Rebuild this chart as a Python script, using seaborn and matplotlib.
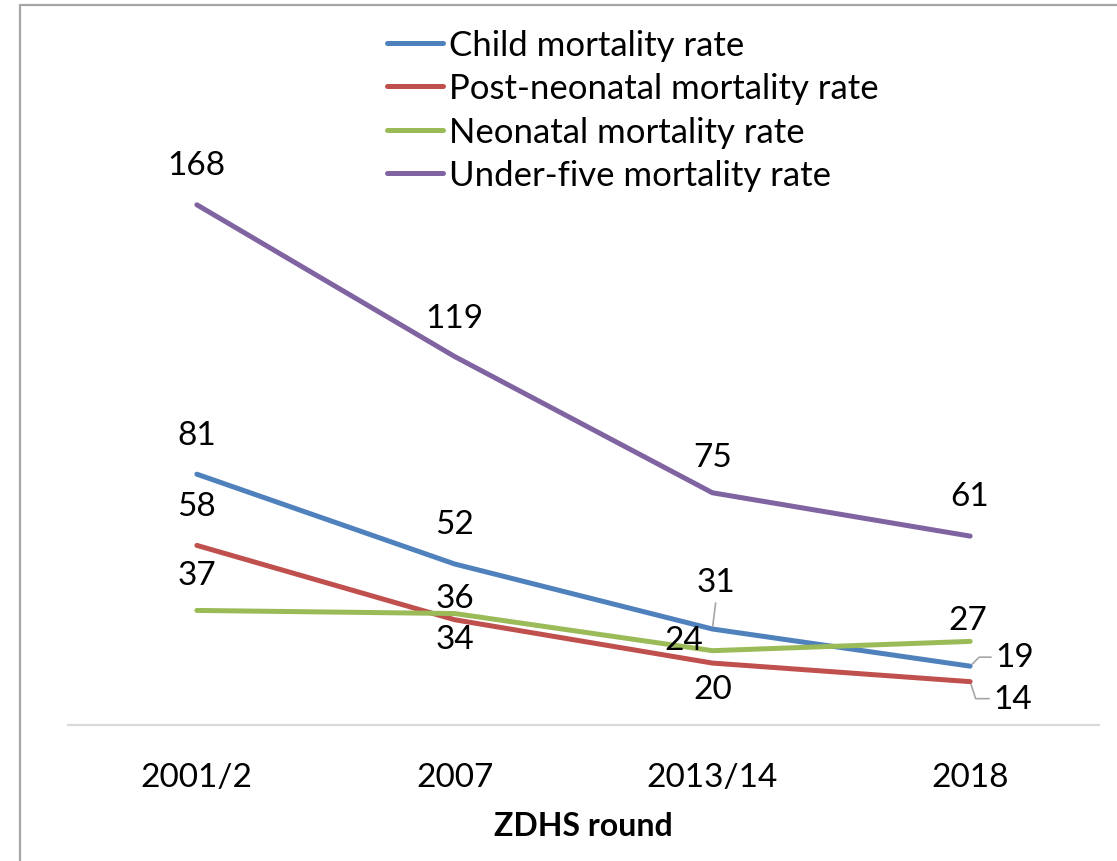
import matplotlib
matplotlib.use("Agg")
import matplotlib.pyplot as plt
from matplotlib.patches import Rectangle
import seaborn as sns
import pandas as pd

# ZDHS mortality estimates (deaths per 1,000 live births)
rounds = ["2001/2", "2007", "2013/14", "2018"]
series_names = [
    "Child mortality rate",
    "Post-neonatal mortality rate",
    "Neonatal mortality rate",
    "Under-five mortality rate",
]
child = [81, 52, 31, 19]
post_neonatal = [58, 34, 20, 14]
neonatal = [37, 36, 24, 27]
under_five = [168, 119, 75, 61]
colors = ["#4F81BD", "#C0504D", "#9BBB59", "#8064A2"]

values = [child, post_neonatal, neonatal, under_five]
df = pd.DataFrame(
    [(name, r, v) for name, vals in zip(series_names, values) for r, v in zip(rounds, vals)],
    columns=["series", "round", "rate"],
)
df["pos"] = df["round"].map({r: i for i, r in enumerate(rounds)})

sns.set_theme(style="white")
plt.rcParams["font.family"] = ["Lato", "DejaVu Sans"]
plt.rcParams["text.color"] = "black"
plt.rcParams["xtick.color"] = "black"
plt.rcParams["axes.labelcolor"] = "black"

fig = plt.figure(figsize=(11.17, 8.62), dpi=100)
ax = fig.add_axes([68 / 1117, 1 - 726 / 862, 1031 / 1117, 706 / 862])

sns.lineplot(
    data=df, x="pos", y="rate", hue="series", hue_order=series_names,
    palette=colors, linewidth=3.6, ax=ax, legend=True, sort=False,
)
for line in ax.lines:
    line.set_solid_capstyle("round")
    line.set_solid_joinstyle("round")

ax.set_xlim(-0.5, 3.5)
ax.set_ylim(0, 228)
ax.set_xticks(range(len(rounds)))
ax.set_xticklabels(rounds, fontsize=24)
ax.tick_params(axis="x", length=0, pad=27)
ax.set_yticks([])
ax.set_ylabel("")
ax.set_xlabel("ZDHS round", fontsize=23, fontweight="bold", labelpad=13)
for side in ["top", "left", "right"]:
    ax.spines[side].set_visible(False)
ax.spines["bottom"].set_color("#d9d9d9")
ax.spines["bottom"].set_linewidth(1.6)

# data label offsets in pixels (dx, dy) per series and round
offsets = [
    [(0, 39), (0, 40), (4, 47), (45, 9)],
    [(0, 39), (0, -19), (0, -26), (43, -17)],
    [(0, 35), (0, 16), (-29, 11), (-2, 21)],
    [(0, 40), (0, 39), (0, 36), (0, 40)],
]
leader = "#a6a6a6"
for si, vals in enumerate(values):
    for ri, v in enumerate(vals):
        dx, dy = offsets[si][ri]
        kw = {}
        if si == 0 and ri == 2:
            kw["arrowprops"] = dict(arrowstyle="-", color=leader, lw=1.2,
                                    shrinkA=2, shrinkB=2, relpos=(0.5, 0.0))
        elif si == 0 and ri == 3:
            kw["arrowprops"] = dict(arrowstyle="-", color=leader, lw=1.2,
                                    shrinkA=1, shrinkB=2, relpos=(0.0, 0.5),
                                    connectionstyle="angle,angleA=0,angleB=45,rad=0")
        elif si == 1 and ri == 3:
            kw["arrowprops"] = dict(arrowstyle="-", color=leader, lw=1.2,
                                    shrinkA=1, shrinkB=2, relpos=(0.0, 0.5),
                                    connectionstyle="angle,angleA=0,angleB=-72,rad=0")
        ax.annotate(str(v), xy=(ri, v), xytext=(dx, dy), textcoords="offset pixels",
                    ha="center", va="center", fontsize=24, color="black", **kw)

handles, labels = ax.get_legend_handles_labels()
ax.legend(
    handles, labels, loc="upper left", bbox_to_anchor=(387 / 1117, 1 - 30 / 862),
    bbox_transform=fig.transFigure, frameon=False, fontsize=25,
    handlelength=1.6, handletextpad=0.2, labelspacing=0.33, borderpad=0,
    borderaxespad=0,
)

# chart area border
fig.patches.append(Rectangle((20 / 1117, -0.1), 1.2, 1.1 - 6 / 862,
                             transform=fig.transFigure, fill=False,
                             edgecolor="#a6a6a6", linewidth=1.6, zorder=0))

fig.savefig("out.png", dpi=100)
